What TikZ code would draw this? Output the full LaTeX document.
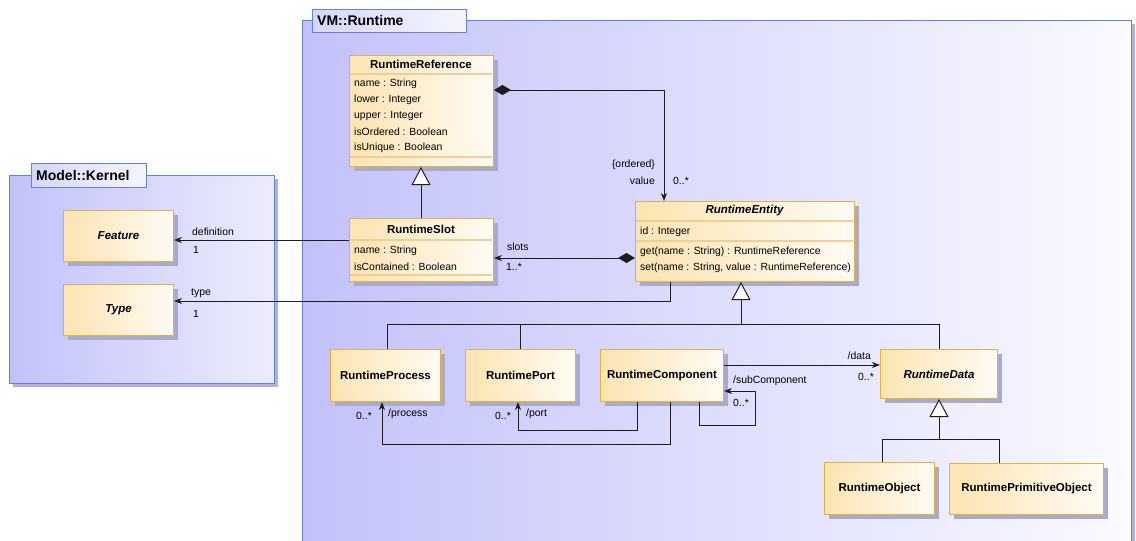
\documentclass[tikz,border=0pt]{standalone}
\usepackage{fontspec}
\setmainfont{Liberation Sans}
\usetikzlibrary{arrows.meta}
\definecolor{pkgdraw}{RGB}{98,128,230}
\definecolor{pkgl}{RGB}{194,194,250}
\definecolor{pkgr}{RGB}{250,250,255}
\definecolor{pkgkr}{RGB}{236,236,252}
\definecolor{pkgshadow}{RGB}{176,178,214}
\definecolor{tabl}{RGB}{214,214,250}
\definecolor{tabr}{RGB}{246,246,255}
\definecolor{clsdraw}{RGB}{232,178,52}
\definecolor{clsl}{RGB}{252,228,178}
\definecolor{clsr}{RGB}{255,251,244}
\definecolor{clssep}{RGB}{238,208,150}
\definecolor{clsshadow}{RGB}{168,170,210}
\definecolor{edgec}{RGB}{30,30,30}
\tikzset{
  pkgbody/.style={draw=pkgdraw, line width=1.3pt, left color=pkgl, right color=pkgr, anchor=north west, inner sep=0pt},
  pkgtab/.style={draw=pkgdraw, line width=1.3pt, left color=tabl, right color=tabr, anchor=north west, inner sep=0pt},
  pkgtitle/.style={anchor=west, font=\fontsize{14}{16}\selectfont\bfseries, inner sep=0pt},
  pkgshad/.style={fill=pkgshadow, draw=none, anchor=north west, inner sep=0pt},
  clsshad/.style={fill=clsshadow, draw=none, anchor=north west, inner sep=0pt},
  cls/.style={draw=clsdraw, line width=1pt, left color=clsl, right color=clsr, anchor=north west, inner sep=0pt,
    font=\fontsize{11.5}{13}\selectfont\bfseries},
  abscls/.style={cls, font=\fontsize{11.5}{13}\selectfont\bfseries\itshape},
  ctitle/.style={font=\fontsize{11.5}{13}\selectfont\bfseries, inner sep=0pt},
  attr/.style={anchor=west, font=\fontsize{10.4}{12}\selectfont, inner sep=0pt},
  lbl/.style={font=\fontsize{10.4}{12}\selectfont, inner sep=0pt},
  compsep/.style={draw=clssep, line width=1.2pt},
  edgeline/.style={draw=edgec, line width=1pt},
  assoc/.style={edgeline, -{Stealth[length=8pt,width=6pt,inset=2.5pt]}},
  comp/.style={edgeline, {Diamond[length=17pt,width=10pt]}-{Stealth[length=8pt,width=6pt,inset=2.5pt]}},
  gen/.style={edgeline, -{Triangle[length=18pt,width=19pt,fill=white]}},
}
\begin{document}
\begin{tikzpicture}[x=1pt,y=-1pt]
\useasboundingbox (0,0) rectangle (1136,541);
\clip (0,0) rectangle (1136,541);
\fill[white] (0,0) rectangle (1136,541);

% ---------- packages ----------
\node[pkgshad, minimum width=265pt, minimum height=208pt] (kernelS) at (13,179) {};
\node[pkgbody, right color=pkgkr, minimum width=265pt, minimum height=208pt] (kernel) at (9,175) {};
\node[pkgtab, minimum width=115pt, minimum height=24pt] (kerneltab) at (31,163) {};
\node[pkgtitle] (kerneltitle) at (36,175) {Model::Kernel};
\node[pkgshad, minimum width=829pt, minimum height=600pt] (runtimeS) at (306,24) {};
\node[pkgbody, minimum width=829pt, minimum height=600pt] (runtime) at (302,20) {};
\node[pkgtab, minimum width=154pt, minimum height=23pt] (runtimetab) at (312,9) {};
\node[pkgtitle] (runtimetitle) at (317,20.5) {VM::Runtime};

% ---------- Model::Kernel classes ----------
\node[clsshad, minimum width=110pt, minimum height=51pt] (featureS) at (68,215) {};
\node[abscls, minimum width=110pt, minimum height=51pt] (feature) at (63,210) {Feature};
\node[clsshad, minimum width=110pt, minimum height=51pt] (typeS) at (68,289) {};
\node[abscls, minimum width=110pt, minimum height=51pt] (type) at (63,284) {Type};

% ---------- RuntimeReference ----------
\node[clsshad, minimum width=144pt, minimum height=111pt] (rrefS) at (354,60) {};
\node[cls, minimum width=144pt, minimum height=111pt] (rref) at (349,55) {};
\node[ctitle] (rrefT) at (421,64.5) {RuntimeReference};
\draw[compsep] (350,74) -- (492,74);
\node[attr] (rrefA) at (354,84) {name : String};
\node[attr] (rrefB) at (354,100) {lower : Integer};
\node[attr] (rrefC) at (354,116) {upper : Integer};
\node[attr] (rrefD) at (354,132) {isOrdered : Boolean};
\node[attr] (rrefE) at (354,148) {isUnique : Boolean};
\draw[compsep] (350,157) -- (492,157);

% ---------- RuntimeSlot ----------
\node[clsshad, minimum width=144pt, minimum height=63pt] (rslotS) at (354,223) {};
\node[cls, minimum width=144pt, minimum height=63pt] (rslot) at (349,218) {};
\node[ctitle] (rslotT) at (421,229) {RuntimeSlot};
\draw[compsep] (350,240) -- (492,240);
\node[attr] (rslotA) at (354,251) {name : String};
\node[attr] (rslotB) at (354,267) {isContained : Boolean};
\draw[compsep] (350,275) -- (492,275);

% ---------- RuntimeEntity ----------
\node[clsshad, minimum width=219pt, minimum height=80pt] (rentS) at (640,206) {};
\node[cls, minimum width=219pt, minimum height=80pt] (rent) at (635,201) {};
\node[ctitle, font=\fontsize{11.5}{13}\selectfont\bfseries\itshape] (rentT) at (744.5,211) {RuntimeEntity};
\draw[compsep] (636,221) -- (853,221);
\node[attr] (rentA) at (640,232) {id : Integer};
\draw[compsep] (636,241) -- (853,241);
\node[attr] (rentB) at (640,252) {get(name : String) : RuntimeReference};
\node[attr] (rentC) at (640,268) {set(name : String, value : RuntimeReference)};

% ---------- lower classes ----------
\node[clsshad, minimum width=110pt, minimum height=52pt] (rprocS) at (335,354) {};
\node[cls, minimum width=110pt, minimum height=52pt] (rproc) at (330,349) {RuntimeProcess};
\node[clsshad, minimum width=110pt, minimum height=52pt] (rportS) at (470,354) {};
\node[cls, minimum width=110pt, minimum height=52pt] (rport) at (465,349) {RuntimePort};
\node[clsshad, minimum width=123pt, minimum height=52pt] (rcompS) at (605,354) {};
\node[cls, minimum width=123pt, minimum height=52pt] (rcomp) at (600,349) {RuntimeComponent};
\node[clsshad, minimum width=117pt, minimum height=49pt] (rdataS) at (885,354) {};
\node[abscls, minimum width=117pt, minimum height=49pt] (rdata) at (880,349) {RuntimeData};
\node[clsshad, minimum width=110pt, minimum height=52pt] (robjS) at (829,467) {};
\node[cls, minimum width=110pt, minimum height=52pt] (robj) at (824,462) {RuntimeObject};
\node[clsshad, minimum width=154pt, minimum height=51pt] (rprimS) at (954,468) {};
\node[cls, minimum width=154pt, minimum height=51pt] (rprim) at (949,463) {RuntimePrimitiveObject};

% ---------- helper coordinates ----------
\coordinate (fd) at (300,240);
\coordinate (ty) at (670,301);
\coordinate (sl) at (560,258);
\coordinate (tc) at (664,90);
\coordinate (g1) at (421,200);
\coordinate (j1) at (741,324);
\coordinate (jp) at (387,324);
\coordinate (jq) at (520,324);
\coordinate (jd) at (939,324);
\coordinate (k1) at (939,439);
\coordinate (ko) at (882,439);
\coordinate (kp) at (999,439);
\coordinate (dc) at (800,365);
\coordinate (sa) at (699,425);
\coordinate (sb) at (755,391);
\coordinate (pa) at (637,430);
\coordinate (pb) at (518,430);
\coordinate (qa) at (670,444);
\coordinate (qb) at (382,444);

% ---------- connectors ----------
\draw[gen] (g1 |- rslot.north) -- (g1 |- rref.south);
\draw[comp] (tc -| rref.east) -- (tc) -- (tc |- rent.north);
\draw[comp] (sl -| rent.west) -- (sl -| rslot.east);
\draw[assoc] (fd -| rslot.west) -- (fd -| feature.east);
\draw[assoc] (ty |- rent.south) -- (ty) -- (ty -| type.east);

\draw[gen] (j1) -- (j1 |- rent.south);
\draw[edgeline] (jp |- rproc.north) -- (jp) -- (jd) -- (jd |- rdata.north);
\draw[edgeline] (jq) -- (jq |- rport.north);

\draw[gen] (k1) -- (k1 |- rdata.south);
\draw[edgeline] (ko |- robj.north) -- (ko) -- (kp) -- (kp |- rprim.north);

\draw[assoc] (dc -| rcomp.east) -- (dc -| rdata.west);
\draw[assoc] (sa |- rcomp.south) -- (sa) -- (sa -| sb) -- (sb) -- (sb -| rcomp.east);
\draw[assoc] (pa |- rcomp.south) -- (pa) -- (pb) -- (pb |- rport.south);
\draw[assoc] (qa |- rcomp.south) -- (qa) -- (qb) -- (qb |- rproc.south);

% ---------- connector labels ----------
\node[lbl, anchor=east] (lord) at (655,165) {\{ordered\}};
\node[lbl, anchor=east] (lval) at (655,181) {value};
\node[lbl, anchor=west] (lvalm) at (673,181) {0..*};
\node[lbl, anchor=west] (lslots) at (507,247) {slots};
\node[lbl, anchor=west] (lslotsm) at (506,267) {1..*};
\node[lbl, anchor=west] (ldef) at (192,232) {definition};
\node[lbl, anchor=west] (ldefm) at (193,250) {1};
\node[lbl, anchor=west] (ltype) at (191,293) {type};
\node[lbl, anchor=west] (ltypem) at (193,314) {1};
\node[lbl, anchor=east] (ldata) at (871,356) {/data};
\node[lbl, anchor=east] (ldatam) at (874,377) {0..*};
\node[lbl, anchor=west] (lsub) at (733,381) {/subComponent};
\node[lbl, anchor=west] (lsubm) at (733,403) {0..*};
\node[lbl, anchor=east] (lprocm) at (372,416) {0..*};
\node[lbl, anchor=west] (lproc) at (388,414) {/process};
\node[lbl, anchor=east] (lportm) at (511,416) {0..*};
\node[lbl, anchor=west] (lport) at (526,414) {/port};
\end{tikzpicture}
\end{document}
